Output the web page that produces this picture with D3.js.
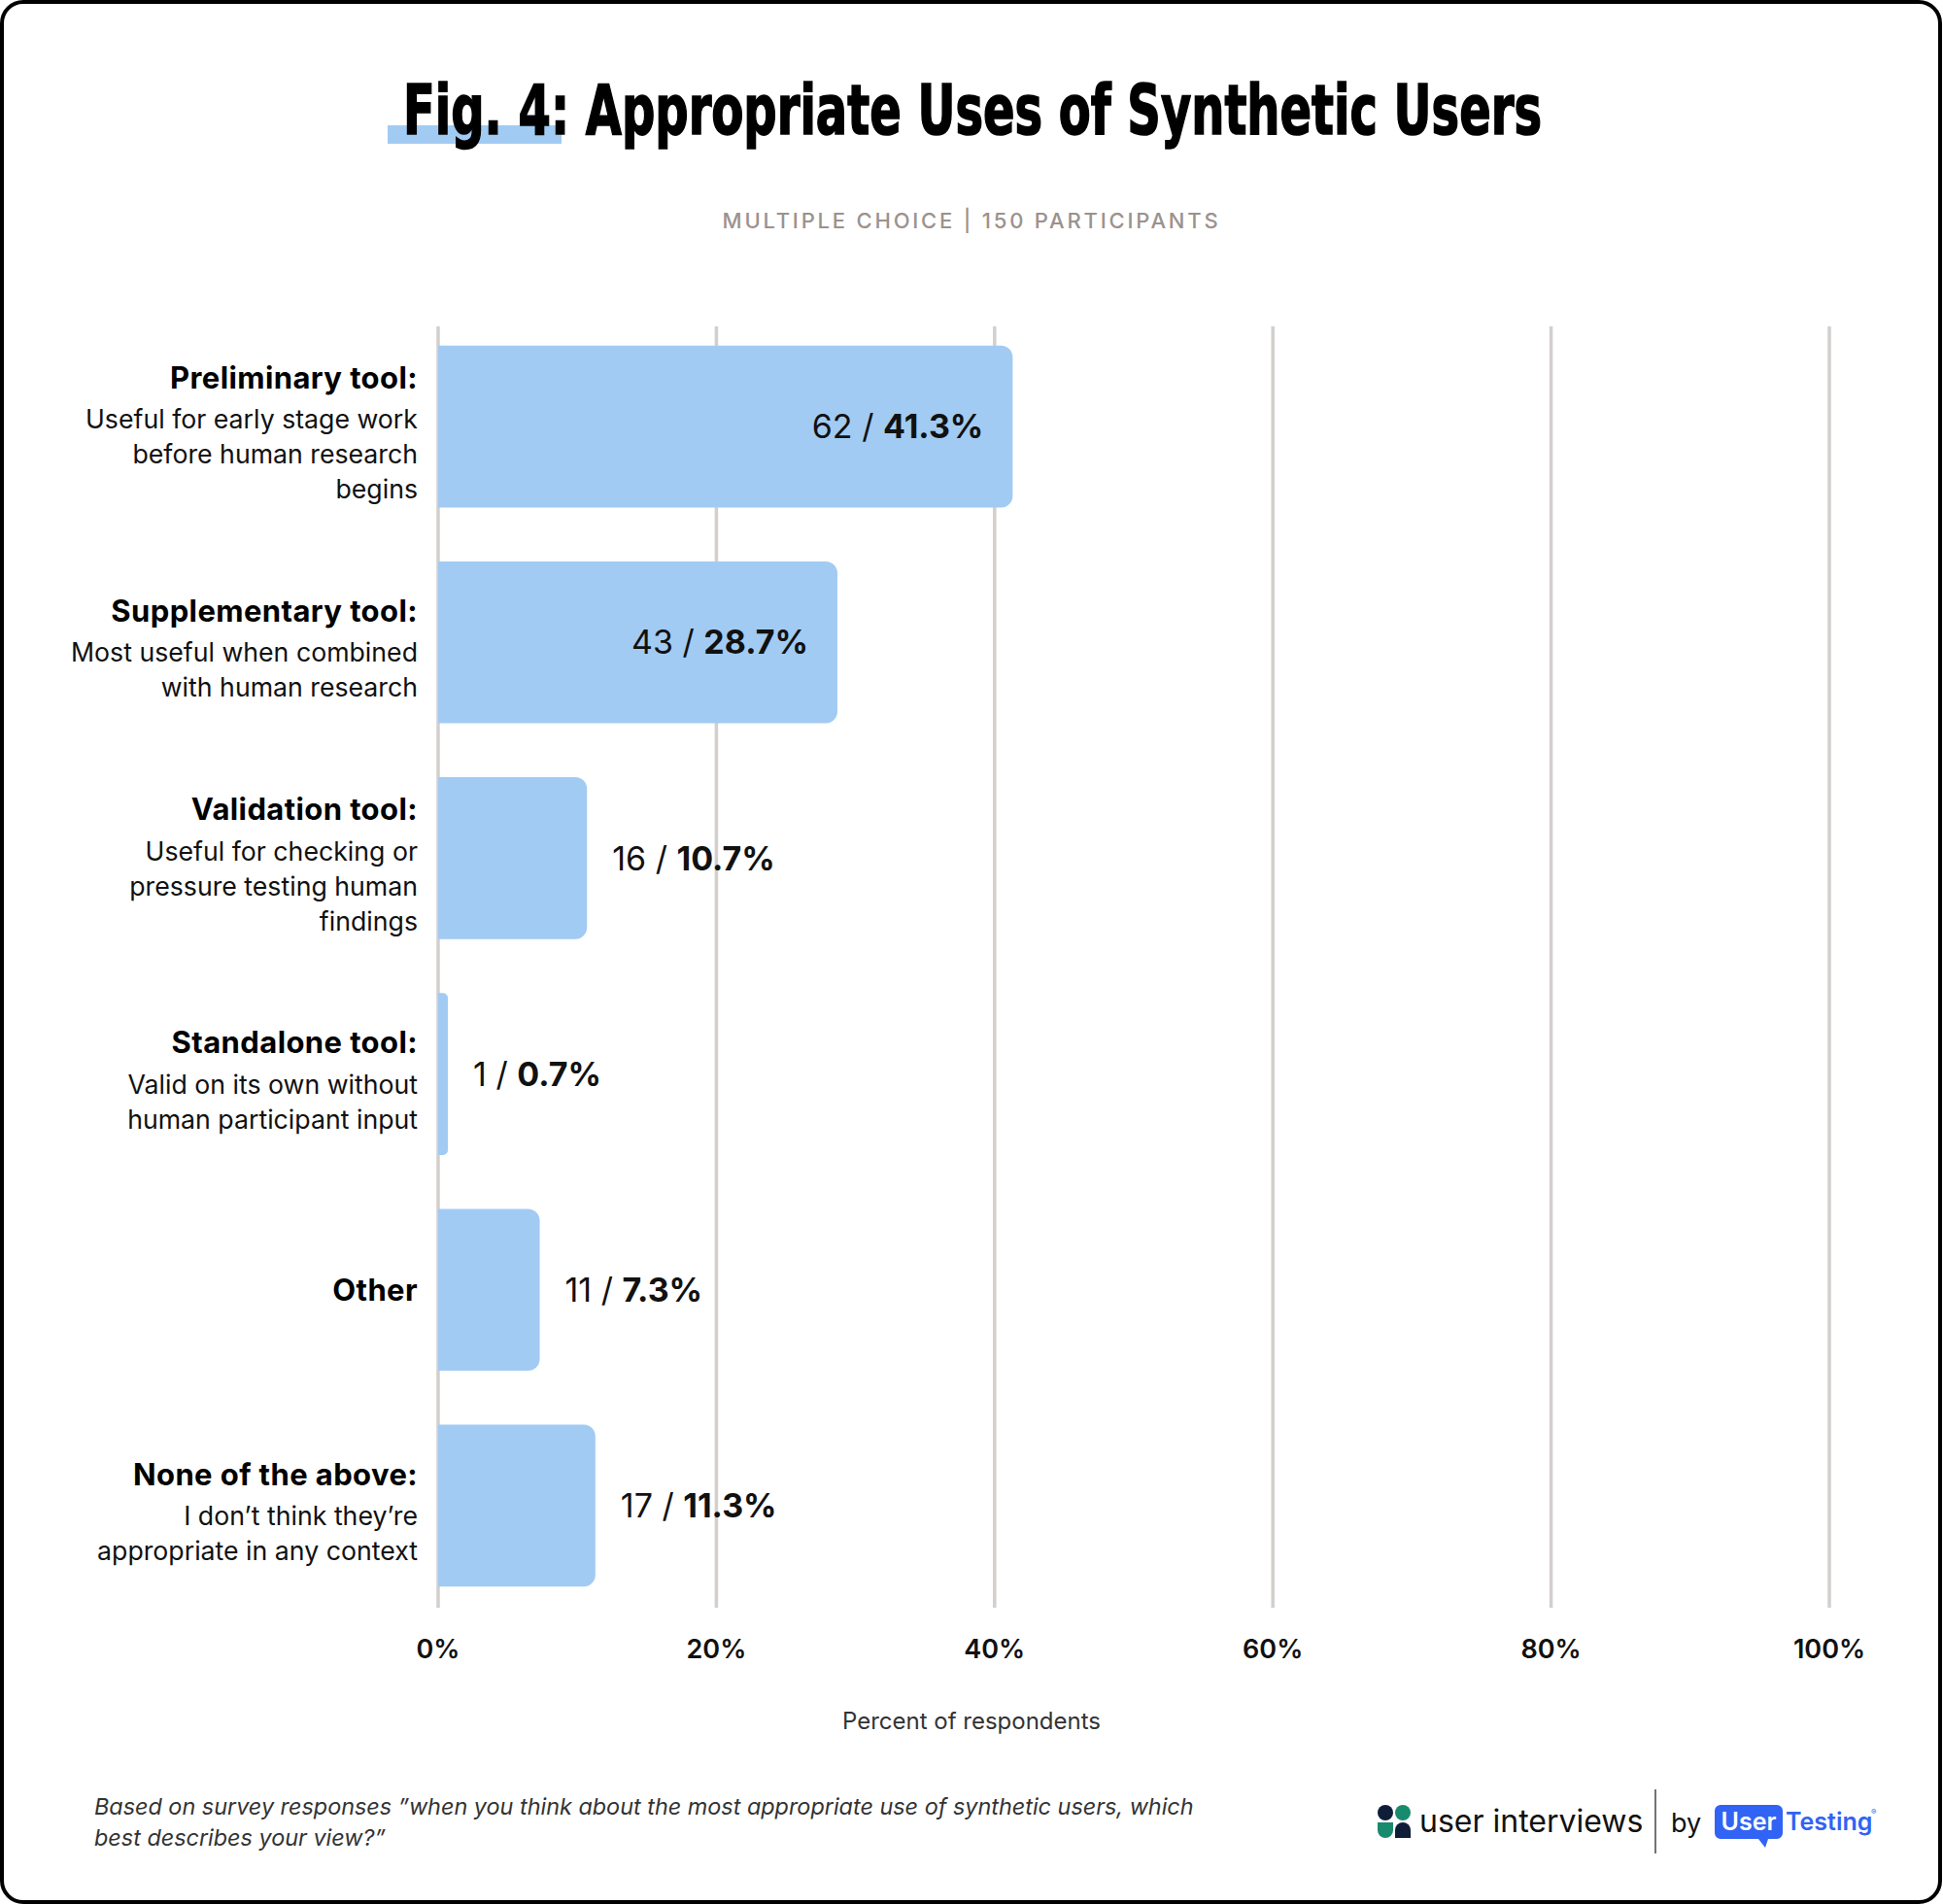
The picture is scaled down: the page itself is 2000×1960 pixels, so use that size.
<!DOCTYPE html>
<html>
<head>
<meta charset="utf-8">
<script src="https://cdn.jsdelivr.net/npm/d3@7"></script>
<style>
  html,body{margin:0;padding:0;background:#fff;}
  svg{display:block;font-family:Inter,'DejaVu Sans',sans-serif;}
</style>
</head>
<body>
<svg id="chart" width="2000" height="1960"></svg>
<script>
// data
var titles=['Preliminary tool:','Supplementary tool:','Validation tool:','Standalone tool:','Other','None of the above:']
var descs=[
  ['Useful for early stage work','before human research','begins'],
  ['Most useful when combined','with human research'],
  ['Useful for checking or','pressure testing human','findings'],
  ['Valid on its own without','human participant input'],
  [],
  ['I don\u2019t think they\u2019re','appropriate in any context']
]
var counts=[62,43,16,1,11,17]
var percents=[41.3,28.7,10.7,0.7,7.3,11.3]
var ticks=[0,20,40,60,80,100]

var svg=d3.select('#chart')
var W=2000,H=1960

// card border
svg.append('rect')
  .attr('x',2).attr('y',2).attr('width',W-5).attr('height',H-4)
  .attr('rx',22).attr('fill','#fff').attr('stroke','#000').attr('stroke-width',4)

// title
svg.append('rect')
  .attr('x',399).attr('y',129).attr('width',179).attr('height',19)
  .attr('fill','#a2cbf3')
svg.append('text')
  .attr('x',415).attr('y',138)
  .attr('textLength',1172).attr('lengthAdjust','spacingAndGlyphs')
  .attr('font-family',"'Liberation Sans Narrow','DejaVu Sans Condensed',sans-serif")
  .attr('font-weight',700).attr('font-size',71).attr('fill','#000')
  .attr('stroke','#000').attr('stroke-width',1.6)
  .text('Fig. 4: Appropriate Uses of Synthetic Users')

svg.append('text')
  .attr('x',1000).attr('y',235).attr('text-anchor','middle')
  .attr('font-size',22).attr('font-weight',500).attr('letter-spacing',2.8)
  .attr('fill','#9b928d')
  .text('MULTIPLE CHOICE | 150 PARTICIPANTS')

var x=d3.scaleLinear().domain([0,100]).range([451,1883])
var y=d3.scaleBand().domain(titles).range([328,1661]).paddingInner(0.25).paddingOuter(0.125)

// grid
svg.append('g').attr('id','grid')
  .selectAll('line').data(ticks).join('line')
  .attr('x1',d=>x(d)).attr('x2',d=>x(d))
  .attr('y1',336).attr('y2',1655)
  .attr('stroke','#d3cfcc').attr('stroke-width',3.5)

svg.append('g').attr('id','tick-labels')
  .selectAll('text').data(ticks).join('text')
  .attr('x',d=>x(d)).attr('y',1707)
  .attr('text-anchor','middle').attr('font-size',27).attr('font-weight',600)
  .attr('fill','#111')
  .text(d=>d+'%')

svg.append('text')
  .attr('x',1000).attr('y',1780).attr('text-anchor','middle')
  .attr('font-size',24).attr('fill','#333')
  .text('Percent of respondents')

// bars, square on the left, rounded on the right
function barPath(d,i){
  var x0=x(0),x1=x(percents[i]),y0=y(titles[i]),h=y.bandwidth()
  var r=Math.min(12,(x1-x0)/2)
  var p=d3.path()
  p.moveTo(x0,y0)
  p.lineTo(x1-r,y0)
  p.arcTo(x1,y0,x1,y0+r,r)
  p.lineTo(x1,y0+h-r)
  p.arcTo(x1,y0+h,x1-r,y0+h,r)
  p.lineTo(x0,y0+h)
  p.closePath()
  return p.toString()
}
svg.append('g').attr('id','bars')
  .selectAll('path').data(titles).join('path')
  .attr('d',barPath)
  .attr('fill','#a2cbf3')

// value labels
var vg=svg.append('g').attr('id','values')
titles.forEach(function(t,i){
  var cy=y(t)+y.bandwidth()/2
  var txt=vg.append('text')
    .attr('y',cy).attr('dy','0.36em')
    .attr('font-size',34).attr('fill','#111')
  txt.append('tspan').text(counts[i]+' / ')
  txt.append('tspan').attr('font-weight',700).text(percents[i]+'%')
  var w=txt.node().getComputedTextLength()
  var bw=x(percents[i])-x(0)
  if(bw>w+60){
    txt.attr('x',x(percents[i])-30).attr('text-anchor','end')
  }else{
    txt.attr('x',x(percents[i])+26)
  }
})

// category labels
var lg=svg.append('g').attr('id','cat-labels')
titles.forEach(function(t,i){
  var cy=y(t)+y.bandwidth()/2
  var n=descs[i].length
  var top=n? cy-(43+(n-1)*36)/2+7 : cy
  lg.append('text')
    .attr('x',430).attr('y',top).attr('dy','0.36em')
    .attr('text-anchor','end').attr('font-size',31).attr('font-weight',700)
    .attr('letter-spacing',0.4)
    .attr('fill','#000').text(t)
  descs[i].forEach(function(s,j){
    lg.append('text')
      .attr('x',430).attr('y',top+43+j*36).attr('dy','0.36em')
      .attr('text-anchor','end').attr('font-size',26.7)
      .attr('fill','#111').text(s)
  })
})

// footer note
var note=['Based on survey responses \u201dwhen you think about the most appropriate use of synthetic users, which',
  'best describes your view?\u201d']
svg.append('g').selectAll('text').data(note).join('text')
  .attr('x',97).attr('y',(d,i)=>1868+i*32)
  .attr('font-size',23.4).attr('font-style','italic').attr('fill','#333')
  .text(d=>d)

// logos
var lo=svg.append('g').attr('id','logo')
lo.append('circle').attr('cx',1426).attr('cy',1866).attr('r',8).attr('fill','#0e1d38')
lo.append('circle').attr('cx',1444).attr('cy',1866).attr('r',8).attr('fill','#188a6d')
lo.append('path').attr('d','M1418,1876 H1434 V1884 A8,8 0 0 1 1418,1884 Z').attr('fill','#188a6d')
lo.append('path').attr('d','M1436,1892 V1884 A8,8 0 0 1 1452,1884 V1892 Z').attr('fill','#0e1d38')
lo.append('text').attr('x',1461).attr('y',1886)
  .attr('font-size',32).attr('fill','#111').text('user interviews')
lo.append('line').attr('x1',1704).attr('x2',1704).attr('y1',1842).attr('y2',1908)
  .attr('stroke','#444').attr('stroke-width',1.5)
lo.append('text').attr('x',1720).attr('y',1886)
  .attr('font-size',27).attr('fill','#111').text('by')
lo.append('path')
  .attr('d','M1771,1858 H1829 A6,6 0 0 1 1835,1864 V1887 A6,6 0 0 1 1829,1893 H1820 L1817,1902 L1810,1893 H1771 A6,6 0 0 1 1765,1887 V1864 A6,6 0 0 1 1771,1858 Z')
  .attr('fill','#3163f5')
lo.append('text').attr('x',1800).attr('y',1884).attr('text-anchor','middle')
  .attr('font-size',25).attr('font-weight',600).attr('fill','#fff').text('User')
lo.append('text').attr('x',1838).attr('y',1884)
  .attr('font-size',25).attr('font-weight',600).attr('fill','#3163f5').text('Testing')
lo.append('text').attr('x',1926).attr('y',1868)
  .attr('font-size',8).attr('fill','#3163f5').text('\u00ae')
</script>
</body>
</html>
